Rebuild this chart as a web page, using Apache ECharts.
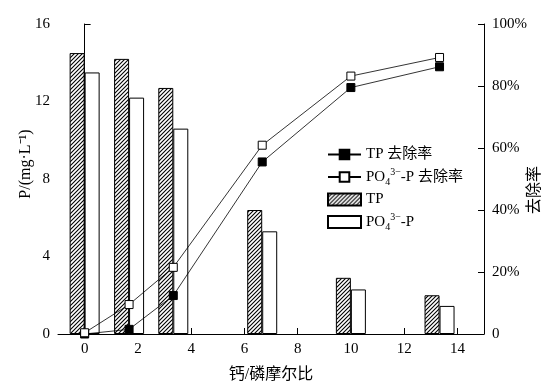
<!DOCTYPE html>
<html>
<head>
<meta charset="utf-8">
<script src="https://cdn.jsdelivr.net/npm/echarts@6/dist/echarts.min.js"></script>
<style>html,body{margin:0;padding:0;background:#fff}#c{width:554px;height:385px}</style>
</head>
<body>
<div id="c"></div>
<script>
// Ca/P molar ratios
var ratios = [0, 1.67, 3.33, 6.67, 10, 13.33];
// concentrations, mg/L
var tpConc = [14.5, 14.2, 12.7, 6.4, 2.9, 2.0];
var po4Conc = [13.5, 12.2, 10.6, 5.3, 2.3, 1.45];
// removal rates, %
var tpRemoval = [0, 1.5, 12.4, 55.5, 79.5, 86.2];
var po4Removal = [0.4, 9.5, 21.5, 60.9, 83.2, 89.2];
var xTicks = [0, 2, 4, 6, 8, 10, 12, 14];

var FONT = '"Liberation Serif", "Times New Roman", "Noto Sans CJK SC", serif';

function pair(xs, ys) { return xs.map(function (x, i) { return [x, ys[i]]; }); }

// hatch pattern
var tile = document.createElement('canvas');
tile.width = 4; tile.height = 4;
var g = tile.getContext('2d');
g.fillStyle = '#fff'; g.fillRect(0, 0, 4, 4);
g.strokeStyle = '#000'; g.lineWidth = 1.1;
g.beginPath();
g.moveTo(-1, 5); g.lineTo(5, -1);
g.moveTo(-1, 1); g.lineTo(1, -1);
g.moveTo(3, 5); g.lineTo(5, 3);
g.stroke();

var chart = echarts.init(document.getElementById('c'), null, { renderer: 'canvas' });

var legendMap = {
  'TP 去除率': '{n|TP 去除率}',
  'PO4 去除率': '{n|PO}{sb|4}{sp|3−}{n|-P 去除率}',
  'TP': '{n|TP}',
  'PO4': '{n|PO}{sb|4}{sp|3−}{n|-P}'
};

chart.setOption({
  animation: false,
  textStyle: { fontFamily: FONT, color: '#000' },
  grid: { left: 58, right: 70, top: 24, bottom: 51, containLabel: false, outerBoundsMode: 'none' },
  legend: {
    orient: 'vertical',
    left: 322, top: 142,
    itemWidth: 33, itemHeight: 12, itemGap: 5,
    data: [
      { name: 'TP 去除率' },
      { name: 'PO4 去除率' },
      { name: 'TP', icon: 'rect' },
      { name: 'PO4', icon: 'rect' }
    ],
    formatter: function (n) { return legendMap[n]; },
    textStyle: {
      fontFamily: FONT, fontSize: 15, color: '#000',
      rich: {
        n: { fontFamily: FONT, fontSize: 15, color: '#000', lineHeight: 20 },
        sb: { fontFamily: FONT, fontSize: 10, color: '#000', lineHeight: 10, verticalAlign: 'bottom' },
        sp: { fontFamily: FONT, fontSize: 10, color: '#000', lineHeight: 10, verticalAlign: 'top' }
      }
    }
  },
  xAxis: {
    type: 'value', min: -1, max: 15,
    name: '钙/磷摩尔比', nameLocation: 'middle', nameGap: 33,
    nameTextStyle: { fontFamily: FONT, fontSize: 16, color: '#000' },
    axisLine: { lineStyle: { color: '#000', width: 1 } },
    axisTick: { inside: true, length: 6, lineStyle: { color: '#000' }, customValues: xTicks },
    axisLabel: { fontFamily: FONT, fontSize: 15, color: '#000', margin: 8, customValues: xTicks },
    splitLine: { show: false }
  },
  yAxis: [{
    type: 'value', min: 0, max: 16, interval: 4,
    name: 'P/(mg·L⁻¹)', nameLocation: 'middle', nameGap: 24, nameMoveOverlap: false,
    nameTextStyle: { fontFamily: FONT, fontSize: 16, color: '#000', padding: [0, 0, 0, 30] },
    axisLine: { show: true, lineStyle: { color: '#000' } },
    axisTick: { inside: true, length: 6, lineStyle: { color: '#000' } },
    axisLabel: { fontFamily: FONT, fontSize: 15, color: '#000', margin: 8 },
    splitLine: { show: false }
  }, {
    type: 'value', min: 0, max: 100, interval: 20, position: 'right',
    name: '去除率', nameLocation: 'middle', nameGap: 43, nameRotate: 90, nameMoveOverlap: false,
    nameTextStyle: { fontFamily: FONT, fontSize: 16, color: '#000', padding: [0, 22, 0, 0] },
    axisLine: { show: true, lineStyle: { color: '#000' } },
    axisTick: { inside: true, length: 6, lineStyle: { color: '#000' } },
    axisLabel: { fontFamily: FONT, fontSize: 15, color: '#000', margin: 8,
      formatter: function (v) { return v === 0 ? '0' : v + '%'; } },
    splitLine: { show: false }
  }],
  series: [{
    name: 'TP', type: 'bar', yAxisIndex: 0,
    barWidth: 15, barGap: '0%',
    data: pair(ratios, tpConc),
    itemStyle: { color: { image: tile, repeat: 'repeat' }, borderColor: '#000', borderWidth: 1 }
  }, {
    name: 'PO4', type: 'bar', yAxisIndex: 0,
    barWidth: 15, barGap: '0%',
    data: pair(ratios, po4Conc),
    itemStyle: { color: '#fff', borderColor: '#000', borderWidth: 1 }
  }, {
    name: 'TP 去除率', type: 'line', yAxisIndex: 1,
    data: pair(ratios, tpRemoval),
    symbol: 'rect', symbolSize: 8,
    lineStyle: { color: '#000', width: 0.8 },
    itemStyle: { color: '#000', borderColor: '#000', borderWidth: 1 }
  }, {
    name: 'PO4 去除率', type: 'line', yAxisIndex: 1,
    data: pair(ratios, po4Removal),
    symbol: 'rect', symbolSize: 8,
    lineStyle: { color: '#000', width: 0.8 },
    itemStyle: { color: '#fff', borderColor: '#000', borderWidth: 1 }
  }]
});
</script>
</body>
</html>
